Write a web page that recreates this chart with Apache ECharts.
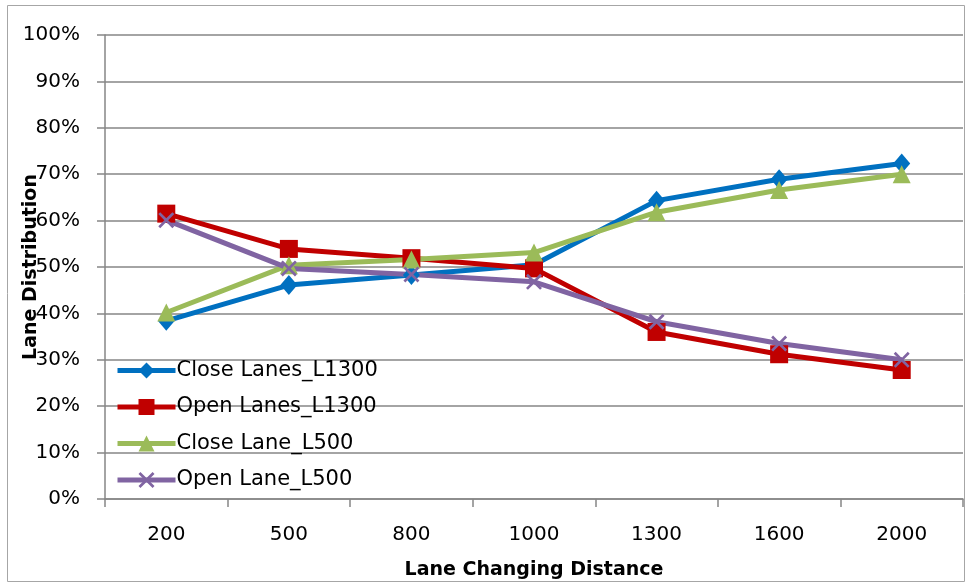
<!DOCTYPE html>
<html>
<head>
<meta charset="utf-8">
<script src="https://cdn.jsdelivr.net/npm/echarts@6/dist/echarts.min.js"></script>
<style>
  html, body { margin: 0; padding: 0; background: #fff; }
  #chart { width: 969px; height: 586px; }
</style>
</head>
<body>
<div id="chart"></div>
<script>
// Lane changing distances (category axis)
const distances = ['200', '500', '800', '1000', '1300', '1600', '2000'];

// Share of vehicles per lane group, as fractions
const closeLanesL1300 = [0.384, 0.461, 0.483, 0.505, 0.643, 0.689, 0.723];
const openLanesL1300  = [0.615, 0.539, 0.519, 0.497, 0.360, 0.312, 0.278];
const closeLaneL500   = [0.402, 0.504, 0.516, 0.531, 0.618, 0.666, 0.700];
const openLaneL500    = [0.601, 0.497, 0.484, 0.468, 0.382, 0.335, 0.300];

const seriesNames = ['Close Lanes_L1300', 'Open Lanes_L1300', 'Close Lane_L500', 'Open Lane_L500'];

const GRID = '#868686';
const FONT = 'DejaVu Sans';
const crossPath = 'path://M0,1.2L1.2,0L5,3.8L8.8,0L10,1.2L6.2,5L10,8.8L8.8,10L5,6.2L1.2,10L0,8.8L3.8,5Z';

function lineSeries(name, data, color, symbol, size) {
  return {
    name: name,
    type: 'line',
    data: data,
    symbol: symbol,
    symbolSize: size,
    showAllSymbol: true,
    lineStyle: { color: color, width: 5 },
    itemStyle: { color: color, opacity: 1 },
    emphasis: { disabled: true }
  };
}

const chart = echarts.init(document.getElementById('chart'), null, { renderer: 'canvas' });
chart.setOption({
  animation: false,
  backgroundColor: '#fff',
  graphic: [{
    type: 'rect',
    shape: { x: 7.5, y: 5.5, width: 957, height: 576 },
    style: { fill: 'none', stroke: '#a6a6a6', lineWidth: 1 },
    silent: true
  }],
  grid: { left: 105, right: 6, top: 35, bottom: 87, containLabel: false, outerBoundsMode: 'none' },
  legend: {
    orient: 'vertical',
    left: 110,
    top: 355,
    itemWidth: 58,
    itemHeight: 20,
    itemGap: 15.5,
    data: seriesNames,
    lineStyle: { width: 5 },
    textStyle: { fontFamily: FONT, fontSize: 21, color: '#000', padding: [0, 0, 0, -4] },
    selectedMode: false
  },
  xAxis: {
    type: 'category',
    data: distances,
    boundaryGap: true,
    name: 'Lane Changing Distance',
    nameLocation: 'middle',
    nameGap: 62,
    nameMoveOverlap: false,
    nameTextStyle: { fontFamily: FONT, fontSize: 19, fontWeight: 'bold', color: '#000' },
    axisLine: { lineStyle: { color: GRID, width: 1.5 } },
    axisTick: { show: true, length: 8, lineStyle: { color: GRID, width: 1.5 } },
    axisLabel: { fontFamily: FONT, fontSize: 20, color: '#000', margin: 26 }
  },
  yAxis: {
    type: 'value',
    min: 0,
    max: 1,
    interval: 0.1,
    name: 'Lane Distribution',
    nameLocation: 'middle',
    nameGap: 64,
    nameMoveOverlap: false,
    nameTextStyle: { fontFamily: FONT, fontSize: 19, fontWeight: 'bold', color: '#000' },
    axisLine: { show: true, lineStyle: { color: GRID, width: 1.5 } },
    axisTick: { show: true, length: 8, lineStyle: { color: GRID, width: 1.5 } },
    splitLine: { lineStyle: { color: GRID, width: 1.5 } },
    axisLabel: {
      fontFamily: FONT, fontSize: 20, color: '#000', margin: 25,
      formatter: function (v) { return Math.round(v * 100) + '%'; }
    }
  },
  series: [
    lineSeries(seriesNames[0], closeLanesL1300, '#0070C0', 'diamond', [17, 20]),
    lineSeries(seriesNames[1], openLanesL1300, '#C00000', 'rect', 18),
    lineSeries(seriesNames[2], closeLaneL500, '#9BBB59', 'triangle', 18),
    lineSeries(seriesNames[3], openLaneL500, '#8064A2', crossPath, 16)
  ]
});
</script>
</body>
</html>
